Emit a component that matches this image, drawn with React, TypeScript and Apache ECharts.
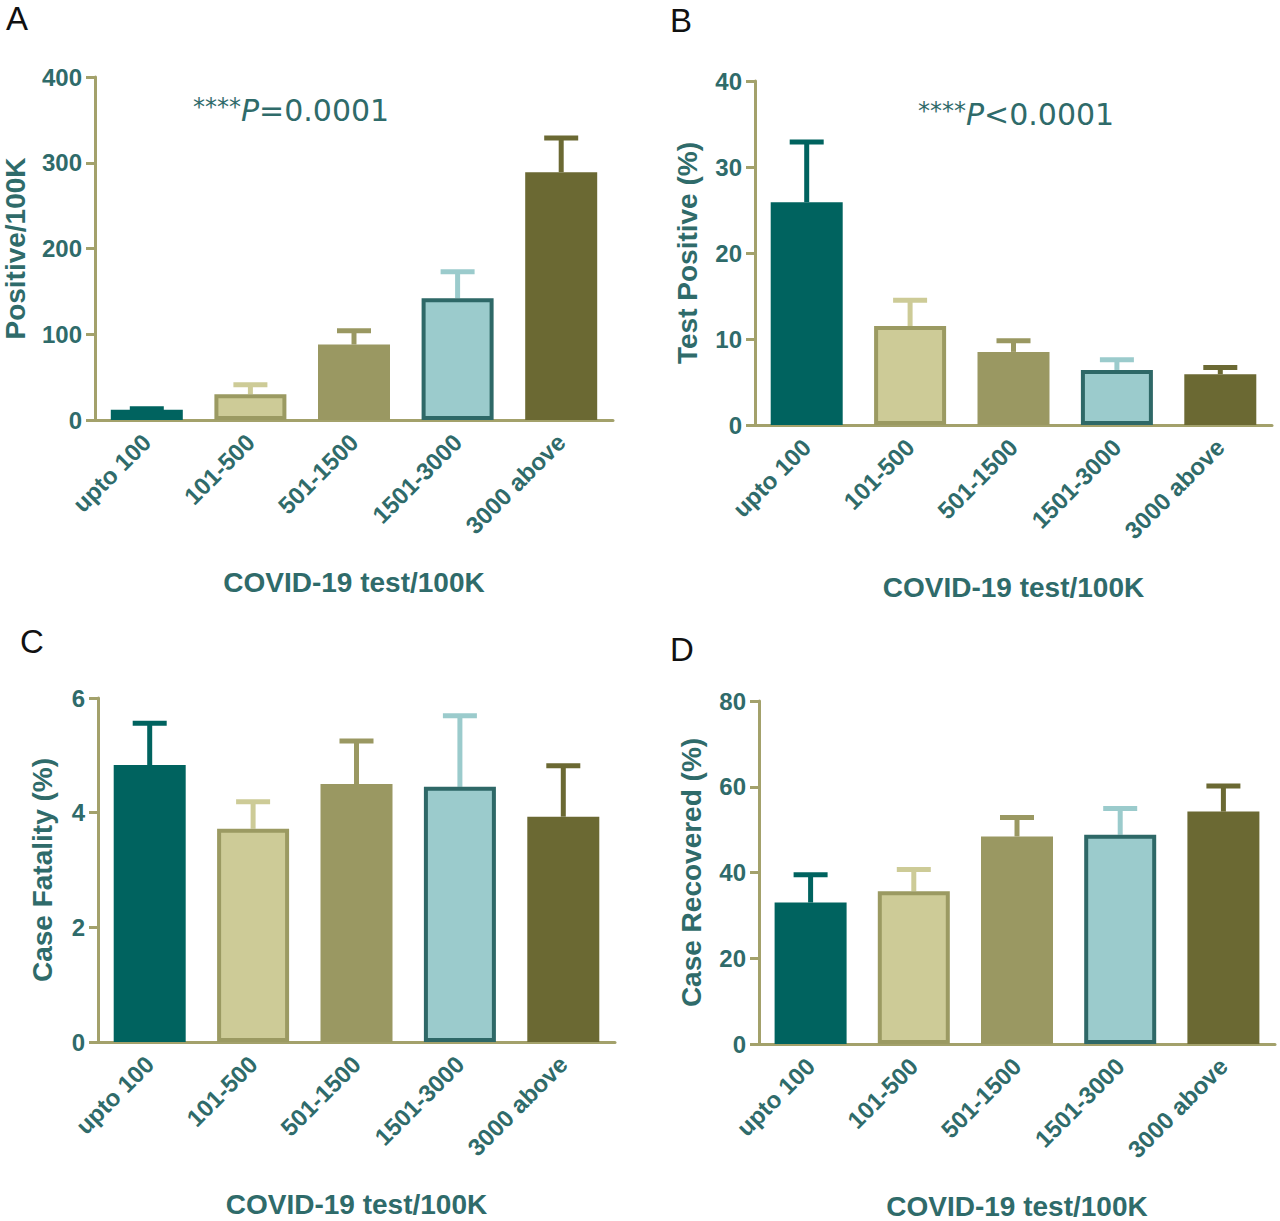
import React, { useEffect, useRef } from 'react';
import * as echarts from 'echarts';

const categories = ['upto 100', '101-500', '501-1500', '1501-3000', '3000 above'];

// A: positive cases per 100K
const positiveMean = [12, 30, 88, 142, 289];
const positiveUpper = [13, 41, 104, 173, 329];
// B: test positive (%)
const testPositiveMean = [25.9, 11.5, 8.5, 6.4, 5.9];
const testPositiveUpper = [32.9, 14.5, 9.8, 7.6, 6.7];
// C: case fatality (%)
const fatalityMean = [4.83, 3.72, 4.5, 4.45, 3.93];
const fatalityUpper = [5.56, 4.19, 5.25, 5.69, 4.82];
// D: case recovered (%)
const recoveredMean = [33.0, 35.6, 48.4, 48.8, 54.2];
const recoveredUpper = [39.5, 40.7, 52.8, 54.9, 60.2];

const fills = ['#00635f', '#cdcb97', '#9a9862', '#9bcbcc', '#6b6933'];
const borders = [null, '#9b9a62', null, '#2e6867', null];

const axisColor = '#a3a16b';
const textColor = '#2f6b6a';
const sans = '"Liberation Sans", Arial, sans-serif';

interface Panel {
  letter: string;
  mean: number[];
  upper: number[];
  yName: string;
  yMax: number;
  yInterval: number;
  nameGap: number;
  grid: { left: number; top: number; width: number; height: number };
}

const panels: Panel[] = [
  {
    letter: 'A',
    mean: positiveMean,
    upper: positiveUpper,
    yName: 'Positive/100K',
    yMax: 400,
    yInterval: 100,
    nameGap: 66,
    grid: { left: 94, top: 77, width: 519, height: 343 },
  },
  {
    letter: 'B',
    mean: testPositiveMean,
    upper: testPositiveUpper,
    yName: 'Test Positive (%)',
    yMax: 40,
    yInterval: 10,
    nameGap: 54,
    grid: { left: 755, top: 81, width: 517, height: 344 },
  },
  {
    letter: 'C',
    mean: fatalityMean,
    upper: fatalityUpper,
    yName: 'Case Fatality (%)',
    yMax: 6,
    yInterval: 2,
    nameGap: 42,
    grid: { left: 98, top: 698, width: 517, height: 344 },
  },
  {
    letter: 'D',
    mean: recoveredMean,
    upper: recoveredUpper,
    yName: 'Case Recovered (%)',
    yMax: 80,
    yInterval: 20,
    nameGap: 54,
    grid: { left: 759, top: 701, width: 516, height: 344 },
  },
];

const letterPos = [
  [6, 2],
  [670, 4],
  [20, 625],
  [670, 633],
];

const pValueTexts = [
  { text: '{a|****}{p|P}{b|=0.0001}', x: 193, y: 95 },
  { text: '{a|****}{p|P}{b|<0.0001}', x: 918, y: 99 },
];

function buildOption(): echarts.EChartsOption {
  const nameStyle = { fontSize: 28, fontWeight: 'bold' as const, color: textColor, fontFamily: sans };
  const pRich = {
    a: { fontSize: 24, fontFamily: '"DejaVu Sans"', fill: textColor, verticalAlign: 'top', lineHeight: 30 },
    p: { fontSize: 30, fontFamily: '"DejaVu Sans"', fontStyle: 'italic', fill: textColor, lineHeight: 30 },
    b: { fontSize: 30, fontFamily: '"DejaVu Sans"', fill: textColor, lineHeight: 30 },
  };

  return {
    animation: false,
    backgroundColor: '#ffffff',
    grid: panels.map(p => ({ ...p.grid, containLabel: false })),
    xAxis: panels.map((p, i) => ({
      type: 'category',
      gridIndex: i,
      data: categories,
      axisLine: { lineStyle: { color: axisColor, width: 3 } },
      axisTick: { alignWithLabel: true, length: 10, lineStyle: { color: axisColor, width: 3 } },
      axisLabel: {
        rotate: 45,
        interval: 0,
        margin: 18,
        fontSize: 24,
        fontWeight: 'bold',
        color: textColor,
        fontFamily: sans,
      },
      name: 'COVID-19 test/100K',
      nameLocation: 'middle',
      nameGap: 148,
      nameTextStyle: nameStyle,
    })),
    yAxis: panels.map((p, i) => ({
      type: 'value',
      gridIndex: i,
      min: 0,
      max: p.yMax,
      interval: p.yInterval,
      axisLine: { show: true, lineStyle: { color: axisColor, width: 3 } },
      axisTick: { show: true, length: 9, lineStyle: { color: axisColor, width: 3 } },
      splitLine: { show: false },
      axisLabel: { margin: 13, fontSize: 24, fontWeight: 'bold', color: textColor, fontFamily: sans },
      name: p.yName,
      nameLocation: 'middle',
      nameGap: p.nameGap,
      nameTextStyle: nameStyle,
    })),
    series: panels.flatMap((p, i) => [
      {
        type: 'custom',
        xAxisIndex: i,
        yAxisIndex: i,
        z: 1,
        silent: true,
        data: categories.map((_, k) => [k, p.mean[k], p.upper[k]]),
        renderItem: (_params: any, api: any) => {
          const k = api.value(0);
          const base = api.coord([k, api.value(1)]);
          const top = api.coord([k, api.value(2)]);
          const style = { stroke: fills[k], lineWidth: 5 };
          return {
            type: 'group',
            children: [
              { type: 'line', shape: { x1: base[0], y1: base[1], x2: top[0], y2: top[1] }, style },
              { type: 'line', shape: { x1: top[0] - 17, y1: top[1], x2: top[0] + 17, y2: top[1] }, style },
            ],
          };
        },
      },
      {
        type: 'bar',
        xAxisIndex: i,
        yAxisIndex: i,
        z: 2,
        barWidth: 72,
        silent: true,
        data: p.mean.map((v, k) => ({
          value: v,
          itemStyle: {
            color: fills[k],
            borderColor: borders[k] ?? fills[k],
            borderWidth: borders[k] ? 4 : 0,
          },
        })),
      },
    ]),
    graphic: [
      ...panels.map((p, i) => ({
        type: 'text',
        x: letterPos[i][0],
        y: letterPos[i][1],
        style: { text: p.letter, fontSize: 33, fontFamily: sans, fill: '#111111', verticalAlign: 'top' },
      })),
      ...pValueTexts.map(t => ({
        type: 'text',
        x: t.x,
        y: t.y,
        style: { text: t.text, verticalAlign: 'top', rich: pRich },
      })),
    ],
  } as echarts.EChartsOption;
}

export default function App() {
  const containerRef = useRef<HTMLDivElement | null>(null);

  useEffect(() => {
    if (!containerRef.current) {
      return undefined;
    }
    const chart = echarts.init(containerRef.current, undefined, { renderer: 'svg' });
    chart.setOption(buildOption());
    return () => {
      chart.dispose();
    };
  }, []);

  return (
    <div
      ref={containerRef}
      style={{ position: 'fixed', left: 0, top: 0, width: 1280, height: 1221, background: '#fff' }}
    />
  );
}
